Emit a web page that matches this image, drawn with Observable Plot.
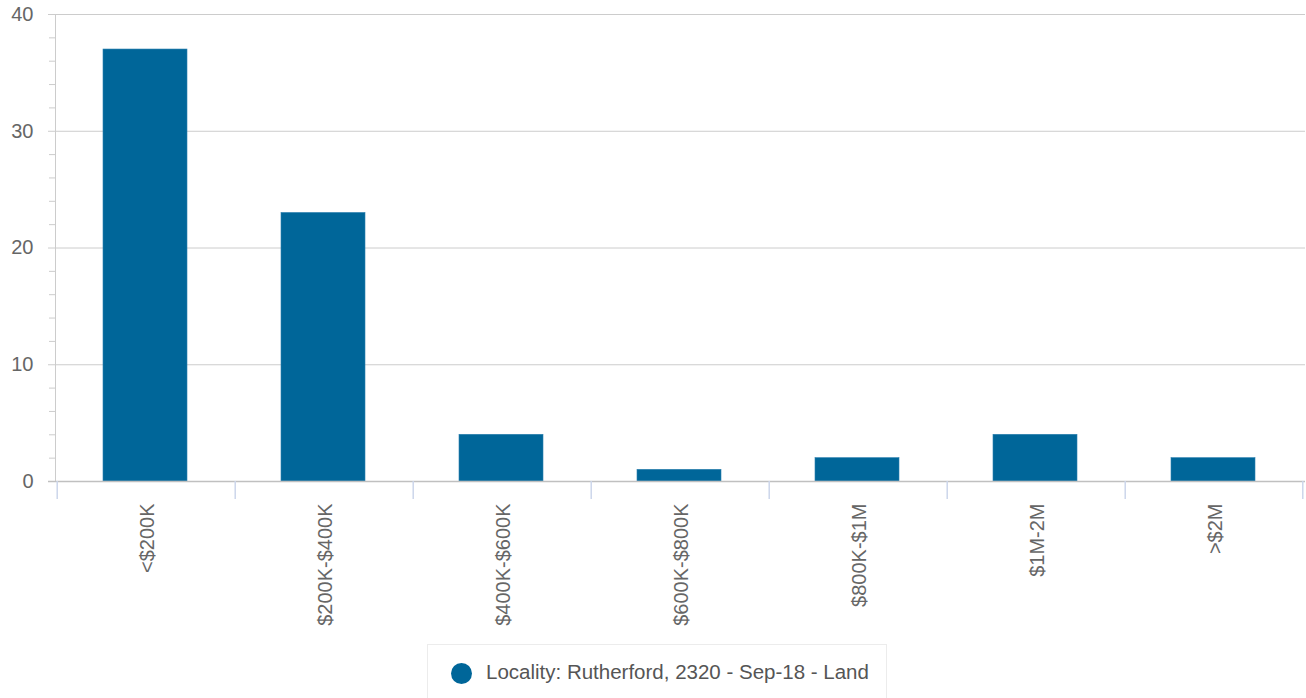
<!DOCTYPE html>
<html>
<head>
<meta charset="utf-8">
<script src="https://cdn.jsdelivr.net/npm/d3@7"></script>
<script src="https://cdn.jsdelivr.net/npm/@observablehq/plot@0.6"></script>
<style>
  body { margin: 0; background: #fff; font-family: "Liberation Sans", Arial, Helvetica, sans-serif; }
  #chart { position: relative; width: 1306px; height: 698px; overflow: hidden; }
  .legend { position: absolute; left: 427px; top: 644px; width: 460px; height: 60px; border: 1px solid #ececec; box-sizing: border-box; }
  .legend .dot { position: absolute; left: 23px; top: 18px; width: 21px; height: 21px; border-radius: 50%; background: #006699; }
  .legend .lbl { position: absolute; left: 58px; top: 15px; font-size: 20.5px; color: #555; white-space: nowrap; }
</style>
</head>
<body>
<div id="chart"></div>
<script>
const categories = ["<$200K", "$200K-$400K", "$400K-$600K", "$600K-$800K", "$800K-$1M", "$1M-2M", ">$2M"];
const counts = [37, 23, 4, 1, 2, 4, 2];
const majorTicks = [0, 10, 20, 30, 40];
const minorTicks = [2, 4, 6, 8, 12, 14, 16, 18, 22, 24, 26, 28, 32, 34, 36, 38];
const seriesName = "Locality: Rutherford, 2320 - Sep-18 - Land";

const data = categories.map((c, i) => ({category: c, count: counts[i]}));

const W = 1306, H = 640, mL = 55, mR = 1, mT = 14, mB = 159;
const step = (W - mL - mR) / categories.length;
const barColor = "#006699";
const gridColor = "#cccccc";
const catTickColor = "#ccd6eb";
const textColor = "#666666";

const plot = Plot.plot({
  width: W,
  height: H,
  marginLeft: mL,
  marginRight: mR,
  marginTop: mT,
  marginBottom: mB,
  style: {fontFamily: '"Liberation Sans", Arial, Helvetica, sans-serif', background: "#fff"},
  x: {type: "band", domain: categories, paddingInner: 0.53, paddingOuter: 0.265, axis: null},
  y: {domain: [0, 40], axis: null},
  marks: [
    Plot.ruleY(majorTicks.filter(d => d > 0), {stroke: gridColor, strokeWidth: 1, insetLeft: -7}),
    Plot.axisY({ticks: minorTicks, tickSize: 6, tickFormat: () => "", label: null, stroke: gridColor, strokeOpacity: 1}),
    Plot.axisY({ticks: majorTicks, tickSize: 0, tickPadding: 22, fontSize: 20, fill: textColor, label: null, tickFormat: d => String(d)}),
    Plot.frame({anchor: "left", stroke: gridColor, strokeWidth: 1}),
    Plot.barY(data, {x: "category", y: "count", fill: barColor, stroke: "#2a7fae", strokeWidth: 0.6, dx: -1}),
    Plot.ruleY([0], {stroke: "#c0c0c0", strokeWidth: 1.5, insetLeft: -7}),
    Plot.axisX({ticks: categories, tickSize: 18, tickFormat: () => "", label: null, stroke: catTickColor, strokeOpacity: 1, strokeWidth: 1.5, dx: -step / 2}),
    Plot.axisX({ticks: [categories[categories.length - 1]], tickSize: 18, tickFormat: () => "", label: null, stroke: catTickColor, strokeOpacity: 1, strokeWidth: 1.5, dx: step / 2 - 1}),
    Plot.axisX({ticks: categories, tickSize: 0, tickPadding: 22, tickRotate: -90, fontSize: 20, fill: textColor, label: null, dx: 1})
  ]
});

const chart = document.getElementById("chart");
chart.appendChild(plot);
const legend = document.createElement("div");
legend.className = "legend";
legend.innerHTML = `<div class="dot"></div><div class="lbl"></div>`;
legend.querySelector(".lbl").textContent = seriesName;
chart.appendChild(legend);
</script>
</body>
</html>
